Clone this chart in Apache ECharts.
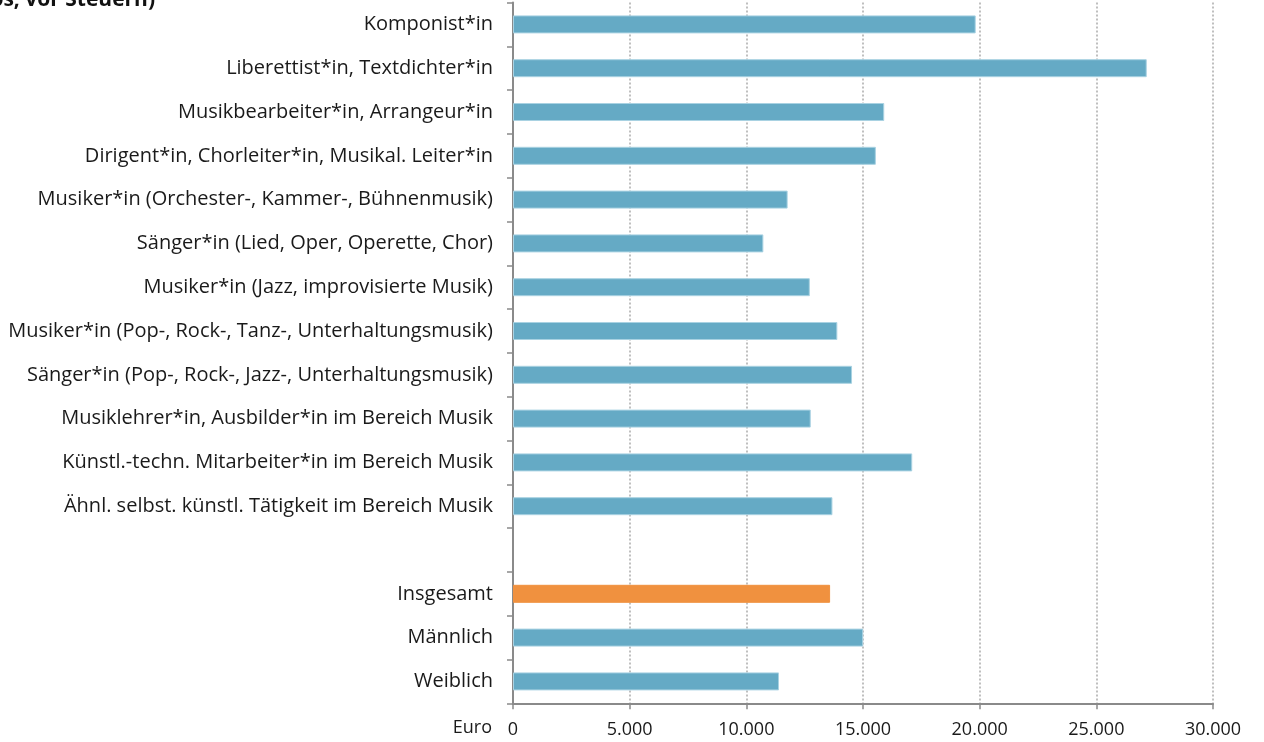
<!DOCTYPE html>
<html><head><meta charset="utf-8">
<script src="https://cdn.jsdelivr.net/npm/echarts@6/dist/echarts.min.js"></script>
<style>html,body{margin:0;padding:0;background:#fff}#c{width:1264px;height:742px}</style>
</head><body><div id="c"></div>
<script>
const categories = [
  'Komponist*in',
  'Liberettist*in, Textdichter*in',
  'Musikbearbeiter*in, Arrangeur*in',
  'Dirigent*in, Chorleiter*in, Musikal. Leiter*in',
  'Musiker*in (Orchester-, Kammer-, Bühnenmusik)',
  'Sänger*in (Lied, Oper, Operette, Chor)',
  'Musiker*in (Jazz, improvisierte Musik)',
  'Musiker*in (Pop-, Rock-, Tanz-, Unterhaltungsmusik)',
  'Sänger*in (Pop-, Rock-, Jazz-, Unterhaltungsmusik)',
  'Musiklehrer*in, Ausbilder*in im Bereich Musik',
  'Künstl.-techn. Mitarbeiter*in im Bereich Musik',
  'Ähnl. selbst. künstl. Tätigkeit im Bereich Musik',
  '',
  'Insgesamt',
  'Männlich',
  'Weiblich'
];
const values = [19830, 27160, 15910, 15550, 11770, 10730, 12720, 13900, 14530, 12760, 17110, 13690, null, 13590, 15010, 11400];
const highlightCategory = 'Insgesamt';
const xTicks = [0, 5000, 10000, 15000, 20000, 25000, 30000];

const blue = '#65aac5', orange = '#f0913f';
const fontFam = '"Open Sans", sans-serif';
const chart = echarts.init(document.getElementById('c'), null, {renderer: 'canvas'});
const fmt = v => String(v).replace(/\B(?=(\d{3})+(?!\d))/g, '.');
chart.setOption({
  animation: false,
  grid: {left: 513, right: 51, top: 2.5, bottom: 38.7, containLabel: false},
  graphic: [
    {type: 'text', right: 1109, top: -10, style: {text: 'Durchschnittliches Jahreseinkommen (in Euros, vor Steuern)', font: 'bold 21px ' + fontFam, fill: '#111', textAlign: 'right'}},
    {type: 'text', right: 772, top: 719, style: {text: 'Euro', font: '18px ' + fontFam, fill: '#1a1a1a'}}
  ],
  xAxis: {
    type: 'value', min: xTicks[0], max: xTicks[xTicks.length - 1], interval: 5000,
    axisLine: {show: true, lineStyle: {color: '#8a8a8a', width: 2}},
    axisTick: {show: true, length: 6, lineStyle: {color: '#8a8a8a', width: 1.5}},
    axisLabel: {formatter: fmt, color: '#1a1a1a', fontSize: 18, fontFamily: fontFam, margin: 18},
    splitLine: {show: true, lineStyle: {color: '#aaa', type: [2, 2], width: 1.5}}
  },
  yAxis: {
    type: 'category', data: categories, inverse: true,
    axisLine: {show: true, lineStyle: {color: '#8a8a8a', width: 2}},
    axisTick: {show: true, length: 6, interval: 0, lineStyle: {color: '#8a8a8a', width: 1.5}},
    axisLabel: {color: '#1a1a1a', fontSize: 20, fontFamily: fontFam, margin: 20, interval: 0}
  },
  series: [{
    type: 'bar', barWidth: 18,
    data: values.map((v, i) => categories[i] === highlightCategory ? {value: v, itemStyle: {color: orange, borderColor: orange}} : v),
    itemStyle: {color: blue, borderColor: '#a9d2e2', borderWidth: 1}
  }]
});
</script></body></html>
